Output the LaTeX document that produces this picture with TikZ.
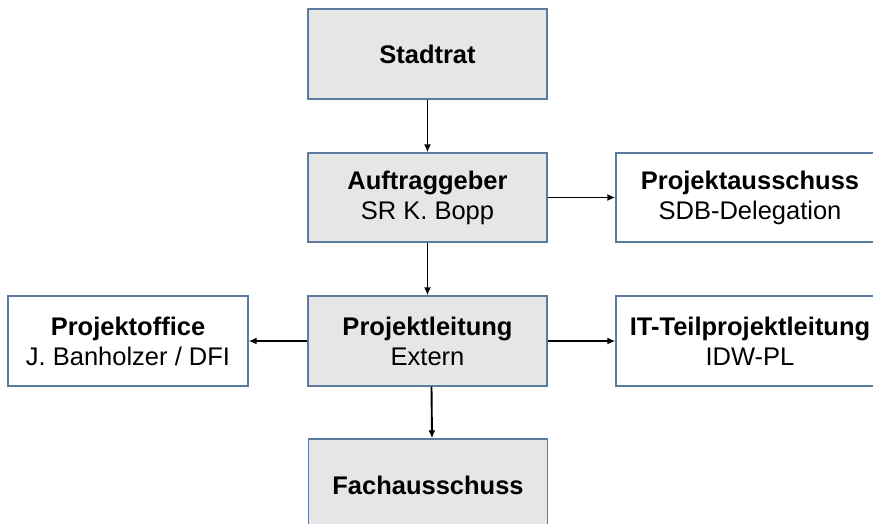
\documentclass[tikz,border=0pt]{standalone}
\usepackage{fontspec}
\setmainfont{Liberation Sans}
\usetikzlibrary{arrows.meta}
\definecolor{bordc}{RGB}{92,122,158}
\definecolor{fillc}{RGB}{230,230,230}
\tikzset{
  orgbox/.style={draw=bordc, line width=1.4pt, minimum height=89pt, inner sep=0pt, align=center,
    font=\fontsize{25.5}{30}\selectfont},
  graybox/.style={orgbox, fill=fillc, minimum width=239pt},
  whitebox/.style={orgbox, fill=white},
  arr/.style={line width=1.9pt, -{Latex[length=8pt,width=7pt]}}
}
\begin{document}
\begin{tikzpicture}[x=1pt,y=-1pt]
\useasboundingbox (0,0) rectangle (873,523);
\clip (0,0) rectangle (873,523);
\node[graybox, minimum height=90pt] (st) at (427.5,54) {\textbf{Stadtrat}};
\node[graybox] (ag) at (427.5,197.5) {\textbf{Auftraggeber}\\SR K. Bopp};
\node[whitebox, minimum width=268pt] (pa) at (750,197.5) {\textbf{Projektausschuss}\\SDB-Delegation};
\node[whitebox, minimum width=240pt, minimum height=90pt] (po) at (128,341) {\textbf{Projektoffice}\\J. Banholzer / DFI};
\node[graybox, minimum height=90pt] (pl) at (427.5,341) {\textbf{Projektleitung}\\Extern};
\node[whitebox, minimum width=268pt, minimum height=90pt] (it) at (750,341) {\textbf{IT-Teilprojektleitung}\\IDW-PL};
\node[graybox, minimum height=92pt] (fa) at (428,485) {\textbf{Fachausschuss}};
\draw[arr] (st.south) -- (ag.north);
\draw[arr] (ag.east) -- (pa.west);
\draw[arr] (ag.south) -- (pl.north);
\draw[arr] (pl.west) -- (po.east);
\draw[arr] (pl.east) -- (it.west);
\draw[arr] ([xshift=4pt]pl.south) -- ([xshift=4pt]fa.north);
\end{tikzpicture}
\end{document}
